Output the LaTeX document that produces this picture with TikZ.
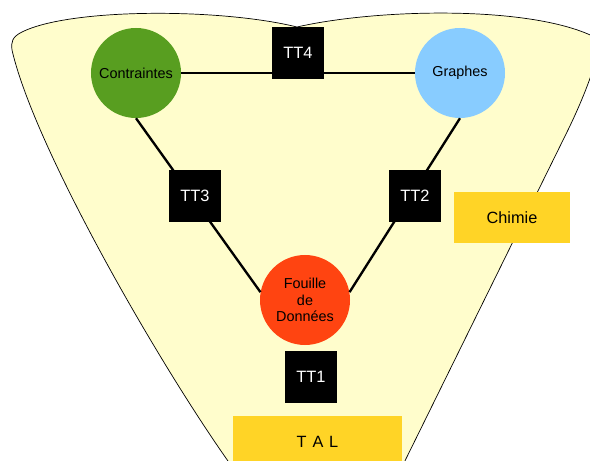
\documentclass[tikz,border=0pt]{standalone}
\usepackage{fontspec}
\setmainfont{Liberation Sans}
\usepackage{tikz}

\definecolor{funnel}{HTML}{FFFDCC}
\definecolor{domgreen}{HTML}{589E20}
\definecolor{domblue}{HTML}{88CCFF}
\definecolor{domred}{HTML}{FF4411}
\definecolor{appyellow}{HTML}{FFD426}

\begin{document}
\begin{tikzpicture}[x=0.03cm, y=-0.03cm,
    domnode/.style={circle, minimum size=2.7cm, inner sep=0pt, align=center,
        font=\fontsize{12.3}{13.8}\selectfont},
    task/.style={fill=black, minimum size=1.56cm, inner sep=0pt, text=white,
        font=\fontsize{14}{16}\selectfont},
    app/.style={fill=appyellow, inner sep=0pt, font=\fontsize{13.9}{16}\selectfont},
    link/.style={line width=2pt}]
    \useasboundingbox (0, 0) rectangle (590, 461);
    \clip (0, 0) rectangle (590, 461);

    % Funnel
    \draw[fill=funnel, line width=0.6pt] (297, 27)
        .. controls (220, 8) and (70, 8) .. (22, 32)
        .. controls (12, 37) and (11, 42) .. (12, 50)
        .. controls (35, 150) and (165, 375) .. (238, 475)
        -- (398, 475) -- (568, 130)
        .. controls (585, 95) and (598, 60) .. (600, 40)
        .. controls (540, 5) and (380, 8) .. (297, 27) -- cycle;

    % Domains
    \node[domnode, fill=domgreen] (contr) at (136, 73) {Contraintes};
    \node[domnode, fill=domblue] (graph) at (460, 73) {Graphes};
    \node[domnode, fill=domred] (fouille) at (305, 300) {Fouille\\de\\Données};

    % Links
    \draw[link] (contr) -- (graph);
    \draw[link] (contr.south) -- (fouille.170);
    \draw[link] (graph.south) -- (fouille.10);

    % Transversal tasks
    \node[task] (tt4) at (298, 53) {TT4};
    \node[task] (tt3) at (195, 196) {TT3};
    \node[task] (tt2) at (415, 196) {TT2};
    \node[task] (tt1) at (311, 377) {TT1};

    % Applications
    \node[app, minimum width=3.48cm, minimum height=1.53cm] (chimie) at (512, 217.5) {Chimie};
    \node[app, minimum width=5.07cm, minimum height=1.56cm] (tal) at (317.5, 442) {T\kern5pt A\kern5pt L};
\end{tikzpicture}
\end{document}
